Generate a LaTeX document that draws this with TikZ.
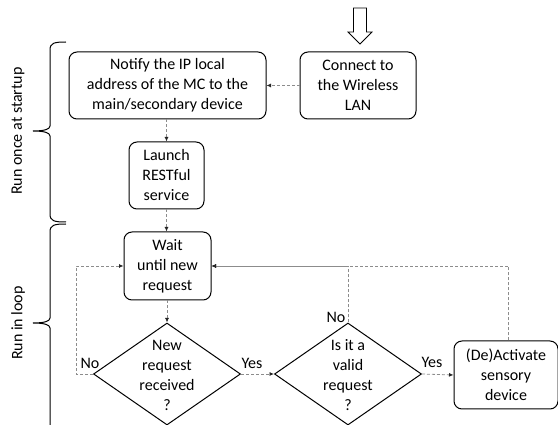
\documentclass[tikz,border=0pt]{standalone}
\usepackage{fontspec}
\setmainfont{Carlito}
\usetikzlibrary{shapes.geometric,arrows.meta}
\begin{document}
\begin{tikzpicture}[x=1pt,y=-1pt,
  every node/.style={font=\fontsize{16}{20}\selectfont},
  procbox/.style={draw=black,line width=1pt,rounded corners=8pt,align=center,inner sep=0pt},
  decision/.style={draw=black,line width=1pt,diamond,inner sep=0pt,minimum width=147pt,minimum height=102pt},
  flow/.style={draw=black!45,line width=0.8pt,dash pattern=on 3pt off 2pt,-{Latex[length=4.5pt,width=4pt,color=black!85]}},
  bracepath/.style={draw=black,line width=1pt},
  lbl/.style={inner sep=0pt}]
\useasboundingbox (0,0) rectangle (558,425);

% entry arrow
\draw[line width=0.8pt] (353.5,8) -- (366.5,8) -- (366.5,32) -- (372,32) -- (360,44) -- (348,32) -- (353.5,32) -- cycle;

% process steps
\node[procbox,minimum width=116pt,minimum height=67pt] (connect) at (358,85.5) {Connect to\\the Wireless\\LAN};
\node[procbox,minimum width=197pt,minimum height=67pt] (notify) at (167.5,85.5) {Notify the IP local\\address of the MC to the\\main/secondary device};
\node[procbox,minimum width=75pt,minimum height=67pt] (launch) at (166.5,175.5) {Launch\\RESTful\\service};
\node[procbox,minimum width=87pt,minimum height=68pt] (wait) at (167.5,266) {Wait\\until new\\request};
\node[procbox,minimum width=104pt,minimum height=68pt] (act) at (506,375) {(De)Activate\\sensory\\device};

% decisions
\node[decision] (d1) at (167,374) {};
\node[align=center,inner sep=0pt] (d1t) at (167,375) {New\\request\\received\\?};
\node[decision] (d2) at (348,374) {};
\node[align=center,inner sep=0pt] (d2t) at (348,375) {Is it a\\valid\\request\\?};

% connectors
\draw[flow] (connect.west) -- (notify.east);
\draw[flow] (notify.south -| launch.north) -- (launch.north);
\draw[flow] (launch.south) -- (launch.south |- wait.north);
\draw[flow] (wait.south -| d1.north) -- (d1.north);
\draw[flow] (d1.east) -- (d2.west);
\draw[flow] (d2.east) -- (act.west);
\coordinate (lb) at (76,374);
\draw[flow] (d1.west) -- (lb) |- (wait.west);
\draw[flow] (d2.north) |- (wait.east);
\coordinate (ar) at (508,266);
\draw[flow] (ar |- act.north) -- (ar) -- (wait.east);

% branch labels
\node[lbl] (no1) at (90,363) {No};
\node[lbl] (yes1) at (252,363) {Yes};
\node[lbl] (no2) at (336,317) {No};
\node[lbl] (yes2) at (432,362) {Yes};

% phase braces
\draw[bracepath] (66,42) .. controls (54,42) and (50,43) .. (50,50) -- (50,126)
  .. controls (50,129) and (45,131) .. (33,131) .. controls (45,131) and (50,133) .. (50,136)
  -- (50,214) .. controls (50,221) and (54,222) .. (66,222);
\draw[bracepath] (66,224) .. controls (54,224) and (50,225) .. (50,232) -- (50,318)
  .. controls (50,321) and (45,323) .. (33,323) .. controls (45,323) and (50,325) .. (50,328)
  -- (50,430);
\node[lbl,rotate=90] (once) at (18,131) {Run once at startup};
\node[lbl,rotate=90] (loop) at (18,323) {Run in loop};
\end{tikzpicture}
\end{document}
